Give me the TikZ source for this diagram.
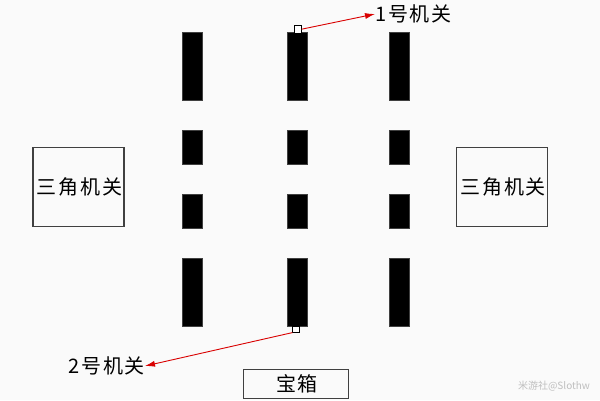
\documentclass[tikz,border=0pt]{standalone}
\usepackage{fontspec}
\newfontfamily\cjk[LetterSpace=9]{Noto Sans CJK SC}
\newfontfamily\cjkmark{Noto Sans CJK SC}
\usepackage{tikz}
\usetikzlibrary{arrows.meta}

\begin{document}
\begin{tikzpicture}[x=1pt, y=-1pt,
	bar/.style = {fill=black, draw=black!75, line width=0.6pt, inner sep=0pt, minimum width=20pt},
	knob/.style = {fill=white, draw=black, line width=0.8pt, inner sep=0pt},
	box/.style = {draw=black!75, line width=1.2pt, inner sep=0pt, font=\cjk\fontsize{20}{20}\selectfont},
	lbl/.style = {inner sep=0pt, font=\cjk\fontsize{20}{20}\selectfont},
	pointer/.style = {draw=red!85!black, line width=0.9pt, -{Latex[length=10pt, width=6pt]}}]
	\useasboundingbox[fill=black!2] (0,0) rectangle (600,400);
	% left column
	\node[bar, minimum height=68pt] (a1) at (192.7,66.7) {};
	\node[bar, minimum height=34pt] (a2) at (192.7,147.3) {};
	\node[bar, minimum height=34pt] (a3) at (192.7,211.3) {};
	\node[bar, minimum height=68pt] (a4) at (192.7,292.2) {};
	% middle column
	\node[bar, minimum height=68pt] (b1) at (297,66.7) {};
	\node[bar, minimum height=34pt] (b2) at (297,147.3) {};
	\node[bar, minimum height=34pt] (b3) at (297,211.3) {};
	\node[bar, minimum height=68pt] (b4) at (297,292.2) {};
	% right column
	\node[bar, minimum height=68pt] (c1) at (399.3,66.7) {};
	\node[bar, minimum height=34pt] (c2) at (399.3,147.3) {};
	\node[bar, minimum height=34pt] (c3) at (399.3,211.3) {};
	\node[bar, minimum height=68pt] (c4) at (399.3,292.2) {};
	% switches
	\node[knob, minimum width=7pt, minimum height=8pt] (k1) at (297.7,29.2) {};
	\node[knob, minimum width=7pt, minimum height=6pt] (k2) at (296.3,329.2) {};
	\node[lbl, anchor=west] (l1) at (375,14) {1号机关};
	\node[lbl, anchor=east] (l2) at (145,366) {2号机关};
	\draw[pointer] (k1.east) -- (l1.west);
	\draw[pointer] (k2.south west) -- (l2.east);
	% boxes
	\node[box, minimum width=91pt, minimum height=79pt] (tl) at (78.5,187.2) {\hspace{1.8pt}三角机关};
	\node[box, minimum width=91pt, minimum height=79pt] (tr) at (502.2,187.2) {\hspace{1.8pt}三角机关};
	\node[box, minimum width=105pt, minimum height=29pt] (chest) at (296,383.7) {\hspace{1.8pt}宝箱};
	\node[text=black!25, inner sep=0pt, font=\cjkmark\fontsize{10}{10}\selectfont] (wm) at (554,385.7) {米游社@Slothw};
\end{tikzpicture}
\end{document}
